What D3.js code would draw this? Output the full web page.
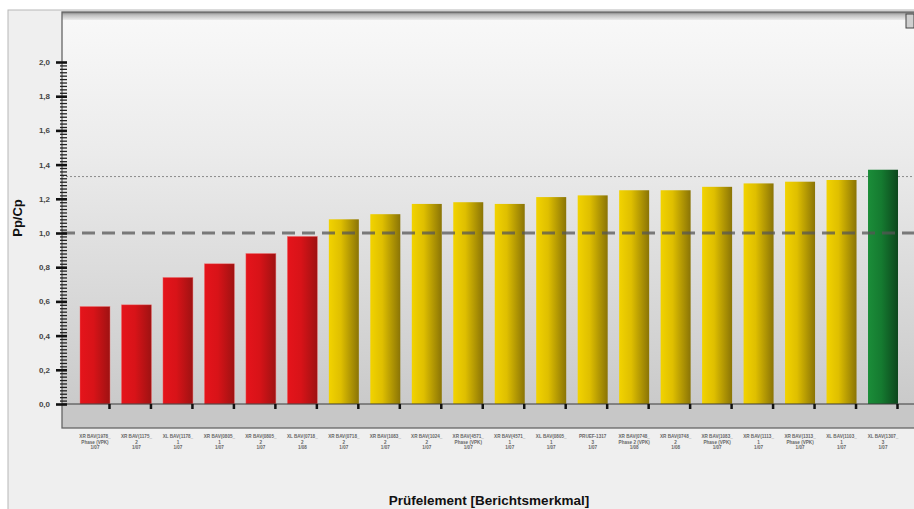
<!DOCTYPE html>
<html>
<head>
<meta charset="utf-8">
<script src="https://cdn.jsdelivr.net/npm/d3@7/dist/d3.min.js"></script>
<style>
  html, body { margin: 0; padding: 0; background: #ffffff; }
  svg { display: block; font-family: "Liberation Sans", Arial, sans-serif; }
</style>
</head>
<body>
<svg id="chart" width="914" height="509"></svg>
<script>
// Prüfelemente (Berichtsmerkmale), drei Zeilen je Merkmal
const labelLine1 = ["XR BAV(1978_", "XR BAV(1175_", "XL BAV(1178_", "XR BAV(0805_", "XR BAV(0805_",
  "XL BAV(0718_", "XR BAV(0718_", "XR BAV(1083_", "XR BAV(1024_", "XR BAV(4571_",
  "XR BAV(4571_", "XL BAV(0805_", "PRUEF-1317", "XR BAV(0748_", "XR BAV(0748_",
  "XR BAV(1083_", "XR BAV(1113_", "XR BAV(1313_", "XL BAV(1103_", "XL BAV(1307_"];
const labelLine2 = ["Phase (VPK)", "2", "1", "1", "2", "2", "2", "2", "2", "Phase (VPK)",
  "1", "1", "3", "Phase 2 (VPK)", "2", "Phase (VPK)", "1", "Phase (VPK)", "1", "3"];
const labelLine3 = ["1/07", "1/07", "1/07", "1/07", "1/07", "1/08", "1/07", "1/07", "1/07", "1/07",
  "1/07", "1/07", "1/07", "1/08", "1/08", "1/07", "1/07", "1/07", "1/07", "1/07"];

// Prozessfähigkeitsindex Pp/Cp je Merkmal
const ppValues = [0.57, 0.58, 0.74, 0.82, 0.88, 0.98, 1.08, 1.11, 1.17, 1.18,
  1.17, 1.21, 1.22, 1.25, 1.25, 1.27, 1.29, 1.30, 1.31, 1.37];

// Grenzwerte
const limitMin = 1.0;
const limitTarget = 1.33;

const yTicks = [0, 0.2, 0.4, 0.6, 0.8, 1.0, 1.2, 1.4, 1.6, 1.8, 2.0];

const svg = d3.select("#chart");
const defs = svg.append("defs");

const plotLeft = 62, plotRight = 916, plotTop = 12, plotBottom = 428;

const x = d3.scaleBand()
  .domain(d3.range(ppValues.length))
  .range([plotLeft, plotRight])
  .paddingInner(0.277)
  .paddingOuter(0.434);

const y = d3.scaleLinear().domain([0, 2]).range([404, 62]);

// Verläufe
function hGrad(id, stops) {
  const g = defs.append("linearGradient").attr("id", id)
    .attr("x1", "0%").attr("x2", "100%").attr("y1", "0%").attr("y2", "0%");
  stops.forEach(([o, c]) => g.append("stop").attr("offset", o).attr("stop-color", c));
}
hGrad("gRed", [["0%", "#e5141b"], ["45%", "#d81318"], ["100%", "#9e1212"]]);
hGrad("gYellow", [["0%", "#f2d300"], ["40%", "#dfbf00"], ["100%", "#8a7406"]]);
hGrad("gGreen", [["0%", "#1b8d39"], ["45%", "#157a30"], ["100%", "#0c461c"]]);

const bgGrad = defs.append("linearGradient").attr("id", "gBg")
  .attr("x1", "0%").attr("x2", "0%").attr("y1", "0%").attr("y2", "100%");
bgGrad.append("stop").attr("offset", "0%").attr("stop-color", "#f8f8f8");
bgGrad.append("stop").attr("offset", "35%").attr("stop-color", "#ebebeb");
bgGrad.append("stop").attr("offset", "100%").attr("stop-color", "#cacaca");

const topGrad = defs.append("linearGradient").attr("id", "gTop")
  .attr("x1", "0%").attr("x2", "0%").attr("y1", "0%").attr("y2", "100%");
topGrad.append("stop").attr("offset", "0%").attr("stop-color", "#7a7a7a");
topGrad.append("stop").attr("offset", "35%").attr("stop-color", "#bdbdbd");
topGrad.append("stop").attr("offset", "100%").attr("stop-color", "#ececec");

// Äußeres Panel
svg.append("rect").attr("x", 8).attr("y", 10).attr("width", 920).attr("height", 520)
  .attr("fill", "#efefef").attr("stroke", "#b8b8b8").attr("stroke-width", 1);

// Diagrammfläche
svg.append("rect").attr("x", plotLeft).attr("y", 20)
  .attr("width", plotRight - plotLeft).attr("height", y(0) - 20)
  .attr("fill", "url(#gBg)");
svg.append("rect").attr("x", plotLeft).attr("y", plotTop)
  .attr("width", plotRight - plotLeft).attr("height", 8)
  .attr("fill", "url(#gTop)");
// Fläche unterhalb der Nulllinie
svg.append("rect").attr("x", plotLeft).attr("y", y(0))
  .attr("width", plotRight - plotLeft).attr("height", plotBottom - y(0))
  .attr("fill", "#c7c7c7");
// Rahmen
svg.append("rect").attr("x", plotLeft).attr("y", plotTop)
  .attr("width", plotRight - plotLeft).attr("height", plotBottom - plotTop)
  .attr("fill", "none").attr("stroke", "#666").attr("stroke-width", 1.3);

// Kleines Symbol oben rechts
svg.append("rect").attr("x", 906).attr("y", 14).attr("width", 8).attr("height", 14)
  .attr("fill", "#cfcfcf").attr("stroke", "#444").attr("stroke-width", 1);

// Zielwert-Linie (gepunktet)
svg.append("line")
  .attr("x1", plotLeft).attr("x2", plotRight)
  .attr("y1", y(limitTarget)).attr("y2", y(limitTarget))
  .attr("stroke", "#8a8a8a").attr("stroke-width", 1).attr("stroke-dasharray", "2,2");

// Balken
function barFill(v) {
  if (v < limitMin) return "url(#gRed)";
  if (v < limitTarget) return "url(#gYellow)";
  return "url(#gGreen)";
}
svg.append("g").selectAll("rect")
  .data(ppValues)
  .join("rect")
  .attr("x", (d, i) => x(i))
  .attr("y", d => y(d))
  .attr("width", x.bandwidth())
  .attr("height", d => y(0) - y(d))
  .attr("fill", d => barFill(d))
  .attr("stroke", d => d < limitMin ? "#f07070" : "none")
  .attr("stroke-width", 0.6)
  .attr("stroke-opacity", 0.7);

// Mindestwert-Linie (gestrichelt)
svg.append("line")
  .attr("x1", plotLeft).attr("x2", plotRight)
  .attr("y1", y(limitMin)).attr("y2", y(limitMin))
  .attr("stroke", "#555").attr("stroke-opacity", 0.75)
  .attr("stroke-width", 3).attr("stroke-dasharray", "13,7");

// Nulllinie
svg.append("line")
  .attr("x1", plotLeft).attr("x2", plotRight)
  .attr("y1", y(0)).attr("y2", y(0))
  .attr("stroke", "#3a3a3a").attr("stroke-width", 1.2);

// X-Achse: Ticks und Beschriftung
const xAxis = svg.append("g")
  .attr("transform", `translate(0,${y(0)})`)
  .call(d3.axisBottom(x).tickSize(5).tickFormat(""));
xAxis.select(".domain").remove();
xAxis.selectAll(".tick line")
  .attr("transform", `translate(${x.bandwidth() / 2 - 0.5},0)`)
  .attr("stroke", "#111").attr("stroke-width", 2.5);

const xLabels = svg.append("g");
ppValues.forEach((v, i) => {
  const cx = x(i) + x.bandwidth() / 2;
  [labelLine1[i], labelLine2[i], labelLine3[i]].forEach((t, k) => {
    xLabels.append("text")
      .attr("x", cx).attr("y", 438 + k * 5.5)
      .attr("text-anchor", "middle")
      .attr("font-size", "4.6px").attr("font-weight", "bold")
      .attr("fill", "#666")
      .text(t);
  });
});

// Y-Achse: Nebenticks
const minorTicks = d3.range(0, 101).map(k => k * 0.02);
svg.append("g")
  .attr("transform", `translate(${plotLeft + 5},0)`)
  .call(d3.axisLeft(y).tickValues(minorTicks.filter((d, k) => k % 10 !== 0)).tickSize(7).tickFormat(""))
  .call(g => g.select(".domain").remove())
  .call(g => g.selectAll(".tick line").attr("stroke", "#222").attr("stroke-width", 1.3));

// Y-Achse: Hauptticks mit Beschriftung
const fmt = d => d3.format(".1f")(d).replace(".", ",");
const yAxis = svg.append("g")
  .attr("transform", `translate(${plotLeft + 5},0)`)
  .call(d3.axisLeft(y).tickValues(yTicks).tickSize(11).tickPadding(6).tickFormat(fmt));
yAxis.select(".domain").remove();
yAxis.selectAll(".tick line").attr("stroke", "#111").attr("stroke-width", 2.6);
yAxis.selectAll(".tick text")
  .attr("font-size", "8px").attr("font-weight", "bold").attr("fill", "#444");

// Achsentitel
svg.append("text")
  .attr("transform", "translate(22,218) rotate(-90)")
  .attr("text-anchor", "middle")
  .attr("font-size", "13px").attr("font-weight", "bold").attr("fill", "#111")
  .text("Pp/Cp");

svg.append("text")
  .attr("x", 489).attr("y", 505)
  .attr("text-anchor", "middle")
  .attr("font-size", "13.5px").attr("font-weight", "bold").attr("fill", "#111")
  .text("Prüfelement [Berichtsmerkmal]");
</script>
</body>
</html>
